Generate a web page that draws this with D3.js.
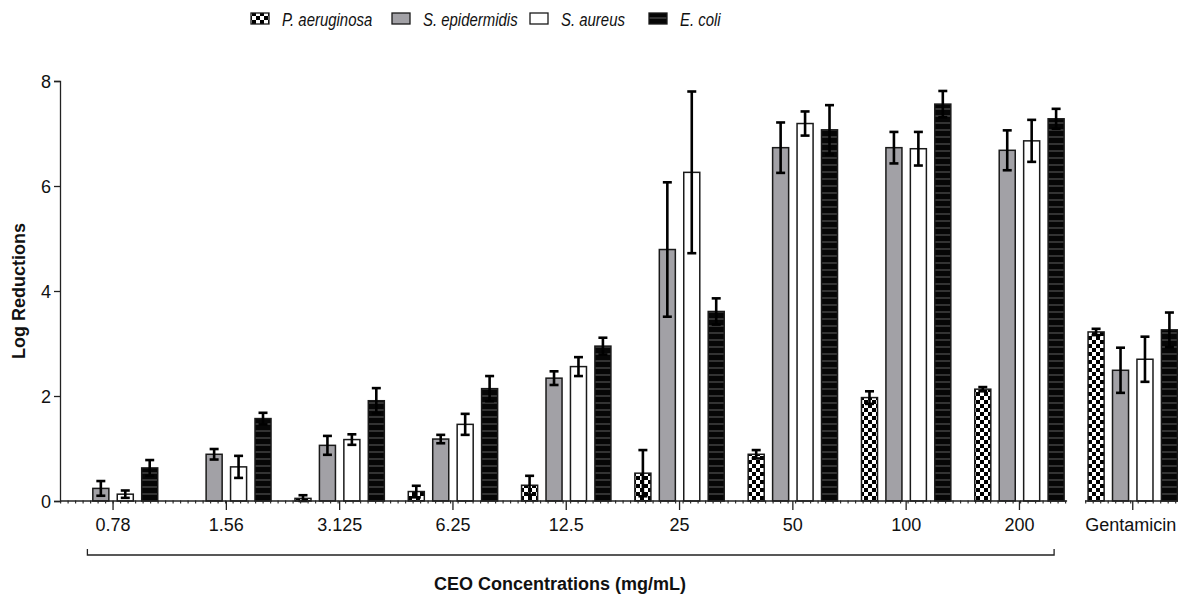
<!DOCTYPE html>
<html lang="en">
<head>
    <meta charset="UTF-8">
    <title>Log Reductions by CEO Concentration</title>
    <script src="https://d3js.org/d3.v7.min.js"></script>
    <style>
        body { margin: 0; background: #fff; }
        svg { display: block; font-family: Arial, "Liberation Sans", sans-serif; }
        .tick text { font-size: 18px; fill: #111; }
        .legend text { font-size: 18px; font-style: italic; fill: #111; }
        .title { font-size: 18px; font-weight: bold; fill: #111; }
    </style>
</head>
<body>
<svg width="1178" height="598"></svg>
<script>
    const categories = ["0.78", "1.56", "3.125", "6.25", "12.5", "25", "50", "100", "200", "Gentamicin"];
    const series = ["P. aeruginosa", "S. epidermidis", "S. aureus", "E. coli"];

    const paMean = [0, 0, 0.05, 0.18, 0.30, 0.53, 0.89, 1.97, 2.13, 3.22];
    const paErr  = [0, 0, 0.06, 0.11, 0.18, 0.44, 0.08, 0.12, 0.04, 0.06];
    const seMean = [0.24, 0.89, 1.06, 1.18, 2.34, 4.79, 6.73, 6.73, 6.68, 2.49];
    const seErr  = [0.14, 0.10, 0.18, 0.08, 0.13, 1.28, 0.48, 0.30, 0.38, 0.43];
    const saMean = [0.13, 0.65, 1.17, 1.46, 2.56, 6.26, 7.19, 6.71, 6.86, 2.70];
    const saErr  = [0.07, 0.21, 0.10, 0.20, 0.18, 1.54, 0.23, 0.32, 0.40, 0.43];
    const ecMean = [0.63, 1.57, 1.91, 2.14, 2.95, 3.61, 7.07, 7.56, 7.28, 3.26];
    const ecErr  = [0.15, 0.11, 0.24, 0.24, 0.16, 0.25, 0.47, 0.25, 0.19, 0.33];

    const yTicks = [0, 2, 4, 6, 8];

    const means = [paMean, seMean, saMean, ecMean];
    const errs = [paErr, seErr, saErr, ecErr];

    const svg = d3.select("svg");
    const axisX = 60, baseY = 501, topY = 81;

    const x0 = d3.scaleBand().domain(categories).range([56.4, 1189.4]).padding(0);
    const x1 = d3.scaleBand().domain(series).range([0, x0.bandwidth()])
        .paddingInner(0.344).paddingOuter(0.49);
    const y = d3.scaleLinear().domain([0, 8]).range([baseY, topY]);

    // fill patterns
    const defs = svg.append("defs");
    const checker = defs.append("pattern").attr("id", "checker")
        .attr("patternUnits", "userSpaceOnUse").attr("width", 8).attr("height", 8);
    checker.append("rect").attr("width", 8).attr("height", 8).attr("fill", "#fff");
    checker.append("rect").attr("width", 4).attr("height", 4).attr("fill", "#000");
    checker.append("rect").attr("x", 4).attr("y", 4).attr("width", 4).attr("height", 4).attr("fill", "#000");

    const stripes = defs.append("pattern").attr("id", "stripes")
        .attr("patternUnits", "userSpaceOnUse").attr("width", 8).attr("height", 7);
    stripes.append("rect").attr("width", 8).attr("height", 7).attr("fill", "#060606");
    stripes.append("rect").attr("y", 3).attr("width", 8).attr("height", 2).attr("fill", "#333");

    const fills = ["url(#checker)", "#a2a1a6", "#ffffff", "url(#stripes)"];

    // bars
    const rows = [];
    categories.forEach((c, ci) => {
        series.forEach((s, si) => {
            rows.push({ cat: c, ser: s, si: si, v: means[si][ci], e: errs[si][ci] });
        });
    });
    const visible = rows.filter(d => d.v > 0);

    svg.append("g").selectAll("rect").data(visible).join("rect")
        .attr("x", d => x0(d.cat) + x1(d.ser))
        .attr("y", d => y(d.v))
        .attr("width", x1.bandwidth())
        .attr("height", d => y(0) - y(d.v))
        .attr("fill", d => fills[d.si])
        .attr("stroke", "#1a1a1a")
        .attr("stroke-width", 1.5);

    // error bars
    const eb = svg.append("g").attr("stroke", "#000").attr("stroke-width", 2.6);
    const cx = d => x0(d.cat) + x1(d.ser) + x1.bandwidth() / 2;
    const withErr = visible.filter(d => d.e > 0);
    eb.selectAll(".stem").data(withErr).join("line")
        .attr("x1", cx).attr("x2", cx)
        .attr("y1", d => y(d.v + d.e)).attr("y2", d => y(Math.max(0, d.v - d.e)));
    eb.selectAll(".capTop").data(withErr).join("line")
        .attr("x1", d => cx(d) - 4.5).attr("x2", d => cx(d) + 4.5)
        .attr("y1", d => y(d.v + d.e)).attr("y2", d => y(d.v + d.e));
    eb.selectAll(".capBot").data(withErr).join("line")
        .attr("x1", d => cx(d) - 4.5).attr("x2", d => cx(d) + 4.5)
        .attr("y1", d => y(Math.max(0, d.v - d.e))).attr("y2", d => y(Math.max(0, d.v - d.e)));

    // y axis
    const yAxis = svg.append("g").attr("transform", `translate(${axisX},0)`)
        .call(d3.axisLeft(y).tickValues(yTicks).tickSize(6).tickPadding(3));
    yAxis.select(".domain").attr("stroke", "#222").attr("stroke-width", 1.3);
    yAxis.selectAll(".tick line").attr("stroke", "#222").attr("stroke-width", 1.3);
    yAxis.selectAll(".tick text").attr("dy", "0.36em");

    svg.append("text").attr("class", "title")
        .attr("transform", `translate(25,${y(4)}) rotate(-90)`)
        .attr("text-anchor", "middle")
        .text("Log Reductions");

    // x axis with a break before Gentamicin
    const breakX = x0(categories[9]);
    const segs = [[axisX, breakX - 9], [breakX + 9, 1178]];
    const xa = svg.append("g");
    segs.forEach(s => {
        xa.append("line").attr("x1", s[0]).attr("x2", s[1])
            .attr("y1", baseY + 1).attr("y2", baseY + 1)
            .attr("stroke", "#333").attr("stroke-width", 3).attr("stroke-dasharray", "1.2,6.3");
        xa.append("line").attr("x1", s[0]).attr("x2", s[1])
            .attr("y1", baseY).attr("y2", baseY)
            .attr("stroke", "#222").attr("stroke-width", 1.3);
    });
    const xAxis = svg.append("g").attr("transform", `translate(0,${baseY})`)
        .call(d3.axisBottom(x0).tickSize(9).tickPadding(8));
    xAxis.select(".domain").remove();
    xAxis.selectAll(".tick line").attr("stroke", "#222").attr("stroke-width", 1.3);
    xAxis.selectAll(".tick text").filter(d => d === "Gentamicin").attr("dx", "-2");

    // bracket under CEO concentrations
    const bl = x0(categories[0]) + 31, br = x0(categories[8]) + x0.bandwidth() - 22;
    svg.append("path")
        .attr("d", `M${bl},549V555H${br}V549`)
        .attr("fill", "none").attr("stroke", "#222").attr("stroke-width", 1.3);
    svg.append("text").attr("class", "title")
        .attr("x", 560).attr("y", 590)
        .attr("text-anchor", "middle")
        .text("CEO Concentrations (mg/mL)");

    // legend (text slightly condensed as in the original figure)
    const legendX = [251, 392, 530, 649];
    const lg = svg.append("g").attr("class", "legend");
    series.forEach((s, i) => {
        lg.append("rect").attr("x", legendX[i]).attr("y", 13)
            .attr("width", 18).attr("height", 11)
            .attr("fill", fills[i]).attr("stroke", "#1a1a1a").attr("stroke-width", 1.3);
        lg.append("text")
            .attr("transform", `translate(${legendX[i] + 31},25.5) scale(0.83,1)`)
            .text(s);
    });
</script>
</body>
</html>
